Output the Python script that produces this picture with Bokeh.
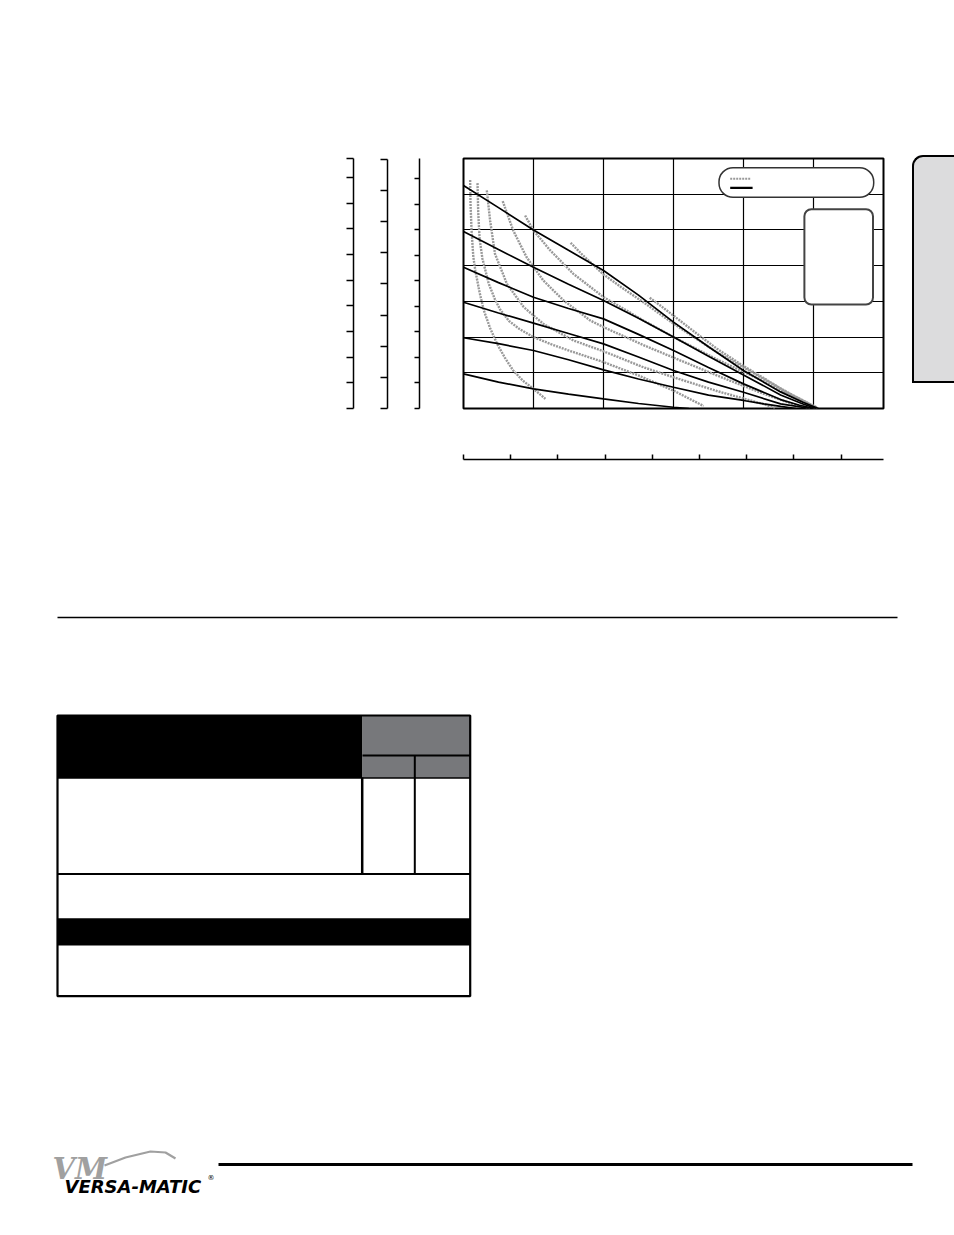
from bokeh.plotting import figure
from bokeh.models import Range1d, LinearAxis, FixedTicker, Div, Spacer
from bokeh.layouts import row, column
from bokeh.embed import file_html
from bokeh.resources import INLINE
from bokeh.core.properties import value

# ---------------- data ----------------
flow_grid_ticks = [10, 20, 30, 40, 50]            # flow (GPM) grid
head_grid_ticks = [20, 40, 60, 80, 100, 120]      # head (psig) grid
lpm_ticks = [0, 25, 50, 75, 100, 125, 150, 175, 200, 225]
ft_ticks = [0, 40, 80, 120, 160, 200, 240, 280, 320]
m_ticks = [0, 10, 20, 30, 40, 50, 60, 70, 80, 90, 97.4]
bar_ticks = [0, 1, 2, 3, 4, 5, 6, 7, 8, 9, 10]

# solid curves: head vs flow at air inlet pressures
p120_x = [0, 5, 10, 15, 20, 25, 30, 35, 40, 45.3, 48.5, 50.7]
p120_y = [124.9, 112.5, 100, 88.6, 77.3, 63.5, 48.4, 34.6, 21.3, 9.3, 3.5, 0]
p100_x = [0, 5, 10, 15, 20, 25, 30, 35, 40, 45.3, 48.5, 50.4]
p100_y = [99.1, 89, 79.1, 69.6, 60.5, 50.5, 40, 29.3, 18.8, 7.6, 2.5, 0]
p80_x = [0, 5, 10, 15, 20, 25, 30, 35, 40, 45.3, 48, 50.1]
p80_y = [79.1, 70.5, 62.3, 56, 50.2, 41.5, 32.5, 23, 13.8, 5, 1.8, 0]
p60_x = [0, 5, 10, 15, 20, 25, 30, 35, 40, 45.3, 49.6]
p60_y = [59.5, 53.5, 47.8, 42, 36.2, 28.8, 21.3, 14.8, 9.1, 2.6, 0]
p40_x = [0, 5, 10, 15, 20, 25, 30, 35, 40, 42.9, 45.3, 47.5]
p40_y = [39.6, 36.3, 32.5, 27.3, 21.6, 16.5, 11.9, 7.5, 4.5, 2.6, 1.2, 0]
p20_x = [0, 5, 10, 15, 20, 25, 30, 32.2]
p20_y = [19.4, 14.8, 11.0, 8.1, 5.4, 2.8, 0.7, 0]

# dotted curves: air consumption
a1_x = [0.95, 1.0, 1.15, 1.4, 1.7, 2.3, 2.9, 3.8, 4.8, 5.9, 7.1, 8.5, 10, 11.7]
a1_y = [128, 115, 100, 85, 77, 65, 55, 45, 36.2, 28.5, 21.3, 15.5, 11.0, 5.4]
a2_x = [2.0, 2.1, 2.3, 2.7, 3.6, 4.5, 5.3, 6.5, 8, 10, 12.5, 15, 20, 25, 30, 34.3]
a2_y = [126.2, 110, 95, 84, 70, 61, 55, 49, 44.5, 40, 36, 32.5, 26, 18.5, 10, 1.4]
a3_x = [3.33, 3.8, 4.5, 6.2, 8.6, 11.4, 15.7, 19.9, 25.7, 30, 36.2, 42.9, 44.5]
a3_y = [122.1, 105.3, 86.6, 69.8, 56.8, 47.4, 38.1, 32.2, 23.1, 17.5, 9.8, 2.4, 0.3]
a4_x = [5.6, 7.1, 9.0, 11.4, 14.3, 18.1, 20, 25.7, 30, 36.2, 42.9, 47, 49.5]
a4_y = [116.1, 99.7, 84.8, 71.7, 60.5, 49.3, 45.6, 35.5, 28.5, 18.5, 8.2, 2.5, 0.2]
a5_x = [8.8, 10, 12.4, 15.7, 20, 25.7, 30, 36.2, 42.9, 47, 50.2]
a5_y = [108.1, 99.7, 88.5, 75.4, 62.4, 49.3, 40, 27.5, 15.2, 6.5, 0.3]
a6_x = [15.3, 17, 19.9, 22.5, 25.7, 30, 36.2, 42.9, 47, 50.5]
a6_y = [92.8, 86, 75.4, 68, 59.5, 47.5, 31.5, 16.5, 7.5, 0.3]
a7_x = [26.6, 28, 30, 33.3, 36.2, 39.9, 42.9, 46, 50.6]
a7_y = [62.0, 58, 52, 42, 33.5, 24, 17, 9.5, 0.3]

solid_xs = [p120_x, p100_x, p80_x, p60_x, p40_x, p20_x]
solid_ys = [p120_y, p100_y, p80_y, p60_y, p40_y, p20_y]
dotted_xs = [a1_x, a2_x, a3_x, a4_x, a5_x, a6_x, a7_x]
dotted_ys = [a1_y, a2_y, a3_y, a4_y, a5_y, a6_y, a7_y]

# ---------------- styles ----------------
DOT_COLOR = "#999999"
DOT_DASH = "2 1"


def spacer_axis(ax, size, tick):
    # an axis that only reserves room: one practically invisible tick
    ax.ticker = FixedTicker(ticks=[tick])
    ax.axis_line_color = None
    ax.major_tick_line_color = "white"
    ax.major_tick_line_alpha = 0.004
    ax.minor_tick_line_color = None
    ax.major_tick_out = size
    ax.major_tick_in = 0
    ax.major_label_text_color = None


def real_axis(ax, ticks, tick_len, inward=False):
    ax.ticker = FixedTicker(ticks=ticks)
    ax.axis_line_color = "black"
    ax.axis_line_width = 1.5
    ax.major_tick_line_color = "black"
    ax.major_tick_line_width = 1.5
    ax.major_tick_out = 0 if inward else tick_len
    ax.major_tick_in = tick_len if inward else 0
    ax.minor_tick_line_color = None
    ax.major_label_text_color = None


# ---------------- chart ----------------
p = figure(width=912, height=478, x_range=Range1d(0, 60), y_range=Range1d(0, 140),
           output_backend="svg", toolbar_location=None,
           min_border_left=463, min_border_right=29, min_border_top=158, min_border_bottom=70)
p.background_fill_color = "white"
p.border_fill_color = "white"
p.outline_line_color = "black"
p.outline_line_width = 2
p.xgrid.ticker = FixedTicker(ticks=flow_grid_ticks)
p.ygrid.ticker = FixedTicker(ticks=head_grid_ticks)
p.xgrid.grid_line_color = "black"
p.ygrid.grid_line_color = "black"
p.xgrid.grid_line_width = 1.2
p.ygrid.grid_line_width = 1.2

p.extra_y_ranges = {"bar": Range1d(0, 9.8), "ft": Range1d(0, 321), "m": Range1d(0, 97.4)}
p.extra_x_ranges = {"lpm": Range1d(0, 222.4)}

spacer_axis(p.yaxis[0], 44, 130)
ax3 = LinearAxis(y_range_name="bar", bounds=(0, 10))
real_axis(ax3, bar_ticks, 5)
p.add_layout(ax3, "left")
sp_b = LinearAxis()
spacer_axis(sp_b, 27, 130)
p.add_layout(sp_b, "left")
ax2 = LinearAxis(y_range_name="ft", bounds=(0, 320))
real_axis(ax2, ft_ticks, 7)
p.add_layout(ax2, "left")
sp_c = LinearAxis()
spacer_axis(sp_c, 27, 130)
p.add_layout(sp_c, "left")
ax1 = LinearAxis(y_range_name="m", bounds=(0, 97.4))
real_axis(ax1, m_ticks, 7)
p.add_layout(ax1, "left")

spacer_axis(p.xaxis[0], 51, 55)
axb = LinearAxis(x_range_name="lpm", bounds=(0, 225))
real_axis(axb, lpm_ticks, 5, inward=True)
p.add_layout(axb, "below")

for xs, ys in zip(dotted_xs, dotted_ys):
    p.line(xs, ys, line_color=DOT_COLOR, line_width=2.4, line_dash=DOT_DASH)
for xs, ys in zip(solid_xs, solid_ys):
    p.line(xs, ys, line_color="black", line_width=1.7)

# legend pill and note box (inside plot)
p.quad(left=[36.5], right=[58.6], bottom=[118.3], top=[134.8], fill_color="white",
       line_color="#333333", line_width=1.5, border_radius=14)
p.line([38.1, 41.0], [128.6, 128.6], line_color=DOT_COLOR, line_width=2, line_dash=DOT_DASH)
p.line([38.1, 41.3], [123.6, 123.6], line_color="black", line_width=2.2)
p.quad(left=[48.7], right=[58.5], bottom=[58.2], top=[111.6], fill_color="white",
       line_color="#444444", line_width=2, border_radius=7)

# ---------------- side tab ----------------
tab = Div(width=42, height=228, margin=0, styles={
    "box-sizing": "border-box",
    "background-color": "#dcdcdd",
    "border-top": "2px solid black",
    "border-left": "2px solid black",
    "border-bottom": "2px solid black",
    "border-top-left-radius": "11px",
})
tab_col = column(Spacer(width=42, height=155, margin=0), tab)

# ---------------- rest of page ----------------
r = figure(width=954, height=750, x_range=Range1d(0, 954), y_range=Range1d(1228, 478),
           output_backend="svg", toolbar_location=None, min_border=0,
           x_axis_location=None, y_axis_location=None)
r.grid.visible = False
r.outline_line_color = None
r.background_fill_color = "white"

# separator rule
r.line([57, 897], [617, 617], line_color="black", line_width=1.3)

# table
r.quad(left=[57], right=[362], top=[715], bottom=[777.5], fill_color="black", line_color=None)
r.quad(left=[362], right=[469.7], top=[715], bottom=[777.5], fill_color="#77787b", line_color=None)
r.line([362, 469.7], [755, 755], line_color="black", line_width=2)
r.line([414.3, 414.3], [755, 873.5], line_color="black", line_width=2)
r.line([361.7, 361.7], [777, 873.5], line_color="black", line_width=2.5)
r.line([57, 469.7], [777.5, 777.5], line_color="black", line_width=1.5)
r.line([57, 469.7], [873.5, 873.5], line_color="black", line_width=2)
r.quad(left=[57], right=[469.7], top=[917.7], bottom=[945], fill_color="black", line_color=None)
r.quad(left=[57], right=[469.7], top=[715], bottom=[995.7], fill_color=None,
       line_color="black", line_width=2.2)

# footer
r.line([218, 912], [1164, 1164], line_color="black", line_width=3)
r.text(x=[52], y=[1168], text=["VM"], text_font=value("DejaVu Serif"),
       text_font_style="bold italic", text_font_size="29px", text_color="#a0a0a0",
       text_baseline="alphabetic")
r.line([104, 125, 150, 165, 175], [1165, 1157, 1151, 1152, 1158], line_color="#a0a0a0", line_width=2.2)
r.text(x=[64], y=[1186], text=["VERSA-MATIC"], text_font=value("DejaVu Sans"),
       text_font_style="bold italic", text_font_size="18px", text_color="black",
       text_baseline="alphabetic")
r.text(x=[207], y=[1177], text=["®"], text_font=value("DejaVu Sans"),
       text_font_size="7px", text_color="black", text_baseline="alphabetic")

layout = column(row(p, tab_col), r)
open("out.html", "w").write(file_html(layout, INLINE))
